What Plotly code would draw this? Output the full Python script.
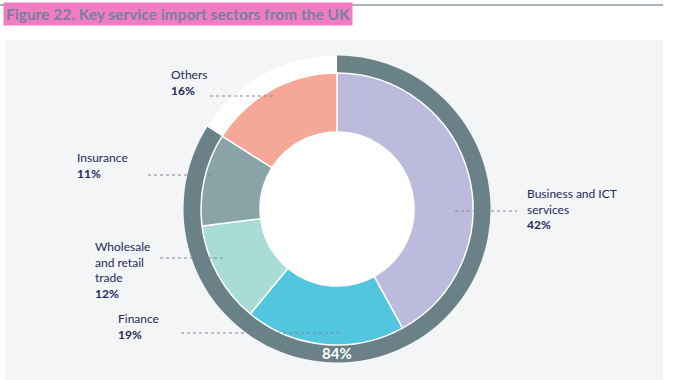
import plotly.graph_objects as go

# Data
sectors = ["Business and ICT services", "Finance", "Wholesale and retail trade", "Insurance", "Others"]
shares = [42, 19, 12, 11, 16]
label_names = ["Business and ICT<br>services", "Finance", "Wholesale<br>and retail<br>trade", "Insurance", "Others"]
ring_labels = ["Top four sectors", "Others"]
ring_values = [84, 16]

W, H = 678, 380
slice_colors = ["#bcbbde", "#53c6df", "#aadcd6", "#89a3a7", "#f6a898"]
ring_colors = ["#6a8287", "#ffffff"]
navy = "#1d2a5b"

def px(x):
    return x / W

def py(y):
    return 1 - y / H

cx, cy = 337, 209
r_out, r_in, r_hole = 153.5, 136, 77

fig = go.Figure()

fig.add_trace(go.Pie(
    labels=ring_labels, values=ring_values, sort=False, direction="clockwise", rotation=0,
    hole=0.885, textinfo="none", hoverinfo="label+value",
    marker=dict(colors=ring_colors, line=dict(color="#ffffff", width=0)),
    domain=dict(x=[px(cx - r_out), px(cx + r_out)], y=[py(cy + r_out), py(cy - r_out)]),
    showlegend=False,
))

fig.add_trace(go.Pie(
    labels=sectors, values=shares, sort=False, direction="clockwise", rotation=0,
    hole=r_hole / r_in, textinfo="none", hoverinfo="label+percent",
    marker=dict(colors=slice_colors, line=dict(color="#ffffff", width=1.5)),
    domain=dict(x=[px(cx - r_in), px(cx + r_in)], y=[py(cy + r_in), py(cy - r_in)]),
    showlegend=False,
))

# white centre of the donut
fig.add_trace(go.Pie(
    labels=["centre"], values=[1], textinfo="none", hoverinfo="skip",
    marker=dict(colors=["#ffffff"], line=dict(width=0)),
    domain=dict(x=[px(cx - r_hole), px(cx + r_hole)], y=[py(cy + r_hole), py(cy - r_hole)]),
    showlegend=False,
))

shapes = []
# panel background
shapes.append(dict(type="rect", xref="paper", yref="paper", x0=px(5), x1=px(663), y0=py(380), y1=py(40),
                   fillcolor="#f4f5f7", line=dict(width=0), layer="below"))
# top rule
shapes.append(dict(type="line", xref="paper", yref="paper", x0=px(0), x1=px(663), y0=py(5), y1=py(5),
                   line=dict(color="#8a9ba5", width=1.5), layer="below"))

# label placement (pixel positions)
label_pos = [(525, 209), (116, 326), (93, 270), (75, 165), (169, 82)]
leader = [(455, 517, 211), (181, 340, 333), (160, 225, 258), (148, 213, 175), (210, 275, 96)]

annotations = []
for i, name in enumerate(label_names):
    x, y = label_pos[i]
    annotations.append(dict(
        xref="paper", yref="paper", x=px(x), y=py(y), xanchor="left", yanchor="middle",
        text=f"{name}<br><b>{shares[i]}%</b>", showarrow=False, align="left",
        font=dict(family="Lato", size=12, color=navy)))
    x0, x1, ly = leader[i]
    shapes.append(dict(type="line", xref="paper", yref="paper", x0=px(x0), x1=px(x1), y0=py(ly), y1=py(ly),
                       line=dict(color="#7f8790", width=1, dash="dot"), layer="above"))

annotations.append(dict(xref="paper", yref="paper", x=px(cx), y=py(353), xanchor="center", yanchor="middle",
                        text=f"<b>{ring_values[0]}%</b>", showarrow=False,
                        font=dict(family="Lato", size=15, color="#ffffff")))

annotations.append(dict(xref="paper", yref="paper", x=px(3), y=py(14.5), xanchor="left", yanchor="middle",
                        text="<b>Figure 22. Key service import sectors from the UK</b>", showarrow=False,
                        bgcolor="#f27cc2", borderpad=2,
                        font=dict(family="Lato", size=15.5, color="#74829a")))

fig.update_layout(
    width=W, height=H, margin=dict(l=0, r=0, t=0, b=0),
    paper_bgcolor="#ffffff", plot_bgcolor="#ffffff",
    shapes=shapes, annotations=annotations,
)

fig.write_html("out.html", config={"displayModeBar": False},
               post_script="document.body.style.margin='0';")
